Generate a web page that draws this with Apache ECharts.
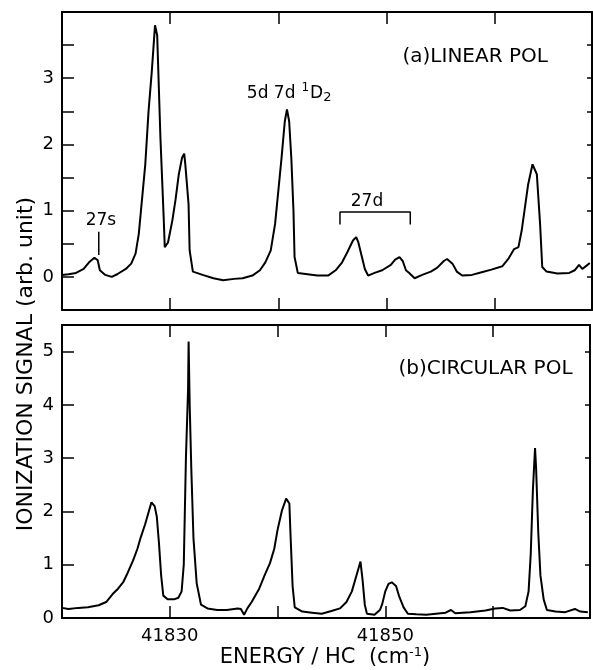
<!DOCTYPE html>
<html>
<head>
<meta charset="utf-8">
<script src="https://cdn.jsdelivr.net/npm/echarts@6/dist/echarts.min.js"></script>
<style>
  html, body { margin: 0; padding: 0; background: #fff; }
  #chart { width: 593px; height: 670px; }
</style>
</head>
<body>
<div id="chart"></div>
<script>
// energy axis (cm^-1) and signals
const linearX = [41820, 41820.6, 41821.3, 41822.0, 41822.5, 41823.0, 41823.3, 41823.5, 41824.0, 41824.6,
  41825.1, 41825.9, 41826.4, 41826.8, 41827.1, 41827.3, 41827.7, 41828.0, 41828.3, 41828.6,
  41828.8, 41829.1, 41829.4, 41829.5, 41829.8, 41830.2, 41830.5, 41830.8, 41831.1, 41831.3,
  41831.4, 41831.7, 41831.8, 41832.1, 41833.0, 41834.0, 41834.9, 41835.9, 41836.7, 41837.6,
  41838.3, 41838.8, 41839.3, 41839.7, 41840.0, 41840.3, 41840.6, 41840.8, 41841.0, 41841.2,
  41841.4, 41841.5, 41841.8, 41842.7, 41843.6, 41844.6, 41845.3, 41845.9, 41846.4, 41846.9,
  41847.2, 41847.4, 41847.7, 41848.0, 41848.3, 41848.9, 41849.6, 41850.4, 41850.8, 41851.2,
  41851.5, 41851.8, 41852.1, 41852.6, 41853.3, 41854.1, 41854.7, 41855.3, 41855.6, 41856.1,
  41856.5, 41857.0, 41857.9, 41858.8, 41859.7, 41860.7, 41861.3, 41861.8, 41862.2, 41862.5,
  41862.8, 41863.1, 41863.5, 41863.6, 41863.9, 41864.2, 41864.4, 41864.8, 41865.8, 41866.9,
  41867.4, 41867.8, 41868.1, 41868.5, 41868.8]
const linearY = [0.03, 0.04, 0.06, 0.12, 0.22, 0.29, 0.25, 0.10, 0.03, 0.00,
  0.04, 0.12, 0.20, 0.35, 0.65, 1.00, 1.70, 2.50, 3.10, 3.80,
  3.65, 2.10, 0.90, 0.45, 0.52, 0.85, 1.17, 1.55, 1.80, 1.86,
  1.70, 1.10, 0.40, 0.08, 0.03, -0.02, -0.05, -0.03, -0.02, 0.02,
  0.10, 0.22, 0.40, 0.80, 1.30, 1.80, 2.35, 2.53, 2.35, 1.80,
  1.00, 0.30, 0.06, 0.04, 0.02, 0.02, 0.10, 0.22, 0.38, 0.55,
  0.60, 0.52, 0.32, 0.12, 0.02, 0.06, 0.10, 0.18, 0.26, 0.30,
  0.24, 0.10, 0.06, -0.02, 0.03, 0.08, 0.14, 0.24, 0.27, 0.20,
  0.08, 0.02, 0.03, 0.07, 0.11, 0.16, 0.28, 0.42, 0.45, 0.70,
  1.05, 1.40, 1.70, 1.73, 1.55, 0.80, 0.15, 0.08, 0.05, 0.06,
  0.10, 0.18, 0.12, 0.17, 0.21]

const circularX = [41820, 41820.6, 41821.5, 41822.4, 41823.4, 41824.1, 41824.7, 41825.2, 41825.7, 41826.1,
  41826.6, 41827.0, 41827.3, 41827.7, 41828.0, 41828.3, 41828.6, 41828.8, 41829.0, 41829.2,
  41829.4, 41829.8, 41830.4, 41830.8, 41831.1, 41831.3, 41831.5, 41831.7, 41831.75, 41831.85,
  41832.0, 41832.2, 41832.5, 41832.9, 41833.5, 41834.4, 41835.3, 41836.3, 41836.6, 41836.9,
  41837.2, 41837.6, 41838.3, 41838.8, 41839.3, 41839.7, 41840.0, 41840.4, 41840.8, 41841.1,
  41841.2, 41841.4, 41841.6, 41842.3, 41843.2, 41844.1, 41845.0, 41845.8, 41846.4, 41846.9,
  41847.4, 41847.7, 41847.9, 41848.1, 41848.3, 41849.0, 41849.5, 41849.7, 41850.0, 41850.3,
  41850.6, 41851.0, 41851.3, 41851.7, 41852.1, 41852.9, 41853.8, 41854.7, 41855.6, 41856.1,
  41856.5, 41857.9, 41859.3, 41860.2, 41860.9, 41861.6, 41862.5, 41863.0, 41863.3, 41863.5,
  41863.7, 41863.9, 41864.0, 41864.2, 41864.4, 41864.7, 41865.0, 41865.8, 41866.7, 41867.6,
  41868.1, 41868.8]
const circularY = [0.19, 0.17, 0.19, 0.20, 0.24, 0.30, 0.45, 0.55, 0.68, 0.85,
  1.08, 1.30, 1.51, 1.75, 1.96, 2.17, 2.10, 1.90, 1.40, 0.80,
  0.42, 0.35, 0.35, 0.38, 0.50, 1.00, 3.00, 4.30, 5.19, 4.00,
  2.80, 1.50, 0.65, 0.25, 0.18, 0.15, 0.15, 0.18, 0.17, 0.06,
  0.18, 0.30, 0.55, 0.80, 1.03, 1.30, 1.65, 2.01, 2.24, 2.15,
  1.60, 0.60, 0.20, 0.12, 0.10, 0.08, 0.13, 0.18, 0.30, 0.50,
  0.85, 1.06, 0.70, 0.25, 0.08, 0.06, 0.15, 0.25, 0.50, 0.64,
  0.67, 0.60, 0.40, 0.20, 0.08, 0.07, 0.06, 0.08, 0.10, 0.15,
  0.09, 0.11, 0.14, 0.18, 0.19, 0.14, 0.15, 0.22, 0.50, 1.20,
  2.40, 3.19, 2.80, 1.60, 0.80, 0.35, 0.15, 0.12, 0.11, 0.17,
  0.12, 0.11]

// axis ranges and labelled ticks
const xRange = [41820, 41869]
const xLabels = [41830, 41850]
const yTopRange = [-0.5, 4]
const yTopLabels = [0, 1, 2, 3]
const yBottomRange = [0, 5.5]
const yBottomLabels = [0, 1, 2, 3, 4, 5]

// annotations in data units
const marker27s = [[41823.4, 0.33], [41823.4, 0.68]]
const bracket27d = [[41845.7, 0.79], [41845.7, 0.98], [41852.2, 0.98], [41852.2, 0.79]]
const topNotes = [
  { value: [41823.6, 0.85], text: '27s', size: 17 },
  { value: [41848.2, 1.14], text: '27d', size: 17 },
  { value: [41841.0, 2.77], text: '5d 7d{sup|1}D{sub|2}', size: 17 },
  { value: [41858.2, 3.33], text: '(a)LINEAR POL', size: 20 }
]
const bottomNotes = [
  { value: [41859.3, 4.68], text: '(b)CIRCULAR POL', size: 20 }
]

const FONT = 'DejaVu Sans'
const INK = '#000'

const zip = (xs, ys) => xs.map((x, i) => [x, ys[i]])

const xAxisBase = (grid, position, showLabels) => ({
  type: 'value',
  gridIndex: grid,
  position: position,
  min: xRange[0],
  max: xRange[1],
  interval: 10,
  axisLine: { show: true, onZero: false, lineStyle: { color: INK, width: 2 } },
  axisTick: { show: true, inside: true, length: 12, lineStyle: { color: INK, width: 1.5 } },
  splitLine: { show: false },
  axisLabel: {
    show: showLabels,
    margin: 9,
    color: INK,
    fontFamily: FONT,
    fontSize: 18,
    formatter: v => (xLabels.includes(v) ? String(v) : '')
  }
})

const yAxisBase = (grid, position, range, interval, labels, tickLen) => ({
  type: 'value',
  gridIndex: grid,
  position: position,
  min: range[0],
  max: range[1],
  interval: interval,
  axisLine: { show: true, onZero: false, lineStyle: { color: INK, width: 2 } },
  axisTick: { show: true, inside: true, length: tickLen, lineStyle: { color: INK, width: 1.5 } },
  splitLine: { show: false },
  axisLabel: {
    show: labels.length > 0,
    margin: 8,
    color: INK,
    fontFamily: FONT,
    fontSize: 18,
    formatter: v => (labels.includes(v) ? String(v) : '')
  }
})

const noteSeries = (xi, yi, notes) => ({
  type: 'scatter',
  xAxisIndex: xi,
  yAxisIndex: yi,
  symbolSize: 0,
  silent: true,
  itemStyle: { opacity: 1 },
  data: notes.map(n => ({
    value: n.value,
    text: n.text,
    label: { fontSize: n.size }
  })),
  label: {
    show: true,
    position: 'inside',
    color: INK,
    opacity: 1,
    textBorderWidth: 0,
    fontFamily: FONT,
    formatter: p => p.data.text,
    rich: {
      sup: { fontSize: 12, fontFamily: FONT, color: INK, padding: [0, 1, 11, 6] },
      sub: { fontSize: 13, fontFamily: FONT, color: INK, padding: [8, 0, 0, 0] }
    }
  }
})

const traceSeries = (xi, yi, data, width) => ({
  type: 'line',
  xAxisIndex: xi,
  yAxisIndex: yi,
  data: data,
  symbol: 'none',
  silent: true,
  animation: false,
  lineStyle: { color: INK, width: width }
})

const chart = echarts.init(document.getElementById('chart'))

const option = {
  backgroundColor: '#fff',
  animation: false,
  grid: [
    { left: 62, top: 12, width: 530, height: 298 },
    { left: 62, top: 325, width: 530, height: 293 }
  ],
  xAxis: [
    xAxisBase(0, 'bottom', false),
    xAxisBase(0, 'top', false),
    xAxisBase(1, 'bottom', true),
    xAxisBase(1, 'top', false)
  ],
  yAxis: [
    yAxisBase(0, 'left', yTopRange, 0.5, yTopLabels, 12),
    yAxisBase(0, 'right', yTopRange, 0.5, [], 5),
    yAxisBase(1, 'left', yBottomRange, 1, yBottomLabels, 12),
    yAxisBase(1, 'right', yBottomRange, 1, [], 5)
  ],
  series: [
    traceSeries(0, 0, zip(linearX, linearY), 2),
    traceSeries(2, 2, zip(circularX, circularY), 2),
    traceSeries(0, 0, marker27s, 1.5),
    traceSeries(0, 0, bracket27d, 1.5),
    noteSeries(0, 0, topNotes),
    noteSeries(2, 2, bottomNotes)
  ],
  graphic: [
    {
      type: 'text',
      x: 26,
      y: 364,
      rotation: Math.PI / 2,
      style: {
        text: 'IONIZATION SIGNAL (arb. unit)',
        fill: INK,
        font: '22px "DejaVu Sans"',
        align: 'center',
        verticalAlign: 'middle'
      }
    },
    {
      type: 'text',
      x: 325,
      y: 658,
      style: {
        text: 'ENERGY / HC  (cm{sup|-1})',
        fill: INK,
        font: '21px "DejaVu Sans"',
        align: 'center',
        verticalAlign: 'middle',
        rich: {
          sup: { fontSize: 13, fontFamily: FONT, fill: INK, padding: [0, 0, 11, 0] }
        }
      }
    }
  ]
}

chart.setOption(option)
</script>
</body>
</html>
